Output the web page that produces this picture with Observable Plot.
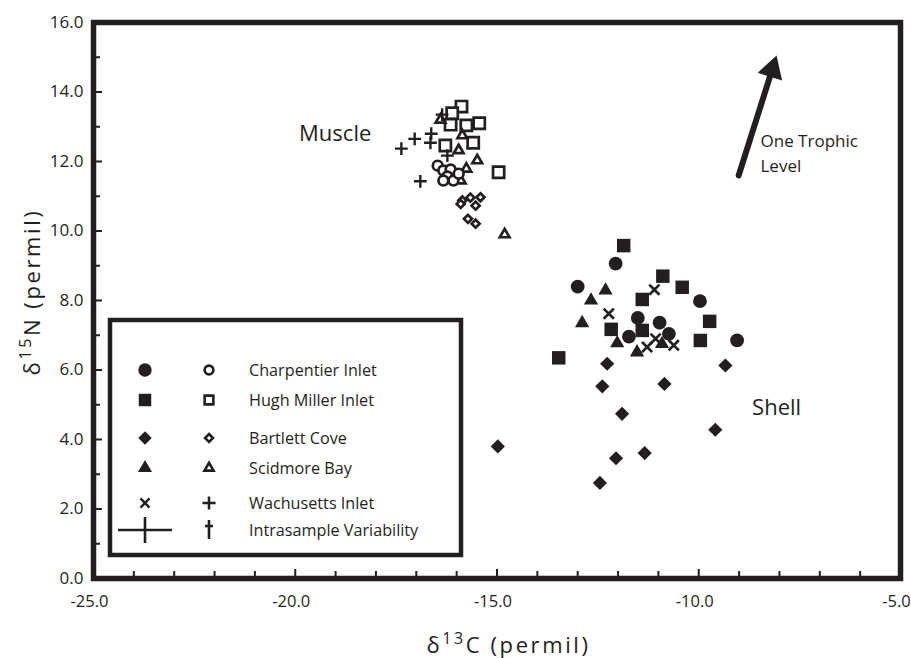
<!DOCTYPE html>
<html>
<head>
<meta charset="utf-8">
<script src="https://cdn.jsdelivr.net/npm/d3@7"></script>
<script src="https://cdn.jsdelivr.net/npm/@observablehq/plot@0.6"></script>
<style>
  body { margin: 0; background: #fff; }
  #wrap { position: relative; width: 911px; height: 658px; overflow: hidden; }
  #legend { position: absolute; left: 0; top: 0; pointer-events: none; }
</style>
</head>
<body>
<div id="wrap"></div>
<script>
// ---------- data: [δ13C, δ15N] pairs ----------
// Shell (filled symbols)
const charpentierShell = [[-12.06,9.06],[-13.00,8.40],[-9.97,7.98],[-11.51,7.50],[-10.97,7.36],[-10.74,7.04],[-11.73,6.96],[-9.05,6.85]];
const hughMillerShell = [[-11.86,9.58],[-10.89,8.70],[-10.41,8.38],[-11.40,8.03],[-9.73,7.40],[-12.17,7.17],[-9.96,6.85],[-13.47,6.35],[-11.40,7.14]];
const bartlettShell = [[-12.27,6.18],[-9.34,6.13],[-12.39,5.53],[-10.85,5.60],[-11.90,4.74],[-9.59,4.28],[-14.98,3.80],[-11.34,3.61],[-12.05,3.46],[-12.45,2.75]];
const scidmoreShell = [[-12.31,8.29],[-12.67,8.00],[-12.89,7.35],[-12.02,6.77],[-11.53,6.51],[-10.91,6.75]];
const wachusettsShell = [[-11.10,8.31],[-12.23,7.62],[-11.28,6.66],[-11.07,6.90],[-10.62,6.71]];
// Muscle (open symbols)
const charpentierMuscle = [[-16.47,11.88],[-16.33,11.74],[-16.15,11.77],[-16.23,11.57],[-16.08,11.45],[-16.33,11.45],[-15.95,11.65]];
const hughMillerMuscle = [[-15.88,13.58],[-16.11,13.39],[-16.15,13.06],[-15.76,13.04],[-15.44,13.10],[-15.59,12.54],[-16.28,12.46],[-14.96,11.69]];
const bartlettMuscle = [[-15.86,10.88],[-15.66,10.96],[-15.41,10.97],[-15.53,10.73],[-15.72,10.35],[-15.53,10.21],[-15.90,10.78]];
const scidmoreMuscle = [[-16.40,13.20],[-15.86,12.75],[-15.95,12.32],[-15.49,12.03],[-15.76,11.79],[-15.90,11.45],[-14.81,9.90]];
const wachusettsMuscle = [[-17.37,12.37],[-17.04,12.65],[-16.63,12.80],[-16.65,12.54],[-16.90,11.43],[-16.36,13.35],[-16.23,12.17]];

// axis ticks
const xMajorTicks = [-25, -20, -15, -10, -5];
const xMinorTicks = [-24,-23,-22,-21,-19,-18,-17,-16,-14,-13,-12,-11,-9,-8,-7,-6];
const yMajorTicks = [0, 2, 4, 6, 8, 10, 12, 14, 16];
const yMinorTicks = [1, 3, 5, 7, 9, 11, 13, 15];

// annotations
const groupLabels = ["Muscle", "Shell"];
const groupLabelX = [-19.01, -8.07];
const groupLabelY = [12.78, 4.92];
const trophicLines = ["One Trophic", "Level"];
const trophicX = [-8.47, -8.47];
const trophicY = [12.58, 11.86];
const trophicArrow = [{x1: -9.01, y1: 11.60, x2: -8.07, y2: 15.05}];

// legend
const legendLabels = ["Charpentier Inlet", "Hugh Miller Inlet", "Bartlett Cove", "Scidmore Bay", "Wachusetts Inlet", "Intrasample Variability"];
const legendSymbols = ["circle", "square", "diamond2", "triangle", "times", "variability"];

// ---------- chart ----------
const INK = "#231f20";
const FONT = '"Open Sans", sans-serif';
const px = d => d[0], py = d => d[1];
const filled = (data, symbol, r) => Plot.dot(data, {x: px, y: py, symbol, r, fill: INK, stroke: "none"});
const hollow = (data, symbol, r) => Plot.dot(data, {x: px, y: py, symbol, r, fill: "white", stroke: INK, strokeWidth: 2.7});
const lineSym = (data, symbol, r, sw) => Plot.dot(data, {x: px, y: py, symbol, r, fill: "none", stroke: INK, strokeWidth: sw});

const chart = Plot.plot({
  width: 911,
  height: 658,
  marginLeft: 93,
  marginRight: 11,
  marginTop: 22,
  marginBottom: 80,
  style: {fontFamily: FONT, fontSize: "17px", color: INK, background: "white", overflow: "visible"},
  x: {domain: [-25, -5]},
  y: {domain: [0, 16]},
  marks: [
    Plot.axisX({ticks: xMinorTicks, tickSize: -7, tickFormat: () => "", label: null, strokeWidth: 2}),
    Plot.axisX({ticks: xMajorTicks, tickSize: -9, tickFormat: () => "", label: null, strokeWidth: 2}),
    Plot.axisX({ticks: xMajorTicks, tickSize: 0, tickPadding: 17, dx: -4, fontSize: 16.5, tickFormat: d => d.toFixed(1), label: null}),
    Plot.axisY({ticks: yMinorTicks, tickSize: -7, tickFormat: () => "", label: null, strokeWidth: 2}),
    Plot.axisY({ticks: yMajorTicks, tickSize: -9, tickFormat: () => "", label: null, strokeWidth: 2}),
    Plot.axisY({ticks: yMajorTicks, tickSize: 0, tickPadding: 10, tickFormat: d => d.toFixed(1), label: null}),
    Plot.frame({stroke: INK, strokeWidth: 5.5}),
    // muscle (open)
    hollow(hughMillerMuscle, "square", 6.3),
    hollow(scidmoreMuscle, "triangle", 3.6),
    hollow(bartlettMuscle, "diamond2", 3.6),
    hollow(charpentierMuscle, "circle", 4.9),
    lineSym(wachusettsMuscle, "plus", 4.2, 2.4),
    // shell (filled)
    filled(hughMillerShell, "square", 7.6),
    filled(charpentierShell, "circle", 6.9),
    filled(scidmoreShell, "triangle", 5.3),
    filled(bartlettShell, "diamond2", 6.4),
    lineSym(wachusettsShell, "times", 4.7, 2.7),
    // annotations
    Plot.text(groupLabels, {x: (d, i) => groupLabelX[i], y: (d, i) => groupLabelY[i], text: d => d, fontSize: 22, fill: INK, textAnchor: "middle"}),
    Plot.text(trophicLines, {x: (d, i) => trophicX[i], y: (d, i) => trophicY[i], text: d => d, fontSize: 17, fill: INK, textAnchor: "start"}),
    Plot.arrow(trophicArrow, {x1: "x1", y1: "y1", x2: "x2", y2: "y2", stroke: INK, strokeWidth: 6, headLength: 0, insetEnd: 12}),
    Plot.dot(trophicArrow, {x: "x2", y: "y2", symbol: "triangle", r: 9.5, rotate: 17.5, dx: -4.5, dy: 14.1, fill: INK, stroke: "none"})
  ]
});

document.getElementById("wrap").appendChild(chart);

// ---------- axis titles with superscripts ----------
const svg = d3.select(chart);
const [xr0, xr1] = chart.scale("x").range;
const [yr0, yr1] = chart.scale("y").range;

function title(sel, sup, rest) {
  sel.attr("text-anchor", "middle")
    .attr("fill", INK)
    .attr("font-family", FONT)
    .attr("font-size", 22)
    .attr("letter-spacing", 2.6);
  sel.append("tspan").text("δ");
  sel.append("tspan").attr("font-size", 16).attr("dy", -9).text(sup);
  sel.append("tspan").attr("dy", 9).text(rest);
}
title(svg.append("text").attr("x", (xr0 + xr1) / 2 + 12).attr("y", yr0 + 75), "13", "C (permil)");
title(svg.append("text").attr("transform", `translate(40,${(yr0 + yr1) / 2 - 8}) rotate(-90)`), "15", "N (permil)");

// ---------- legend (overlay) ----------
const leg = d3.select("#wrap").append("svg")
  .attr("id", "legend")
  .attr("width", 911)
  .attr("height", 658);

leg.append("rect")
  .attr("x", 110).attr("y", 320).attr("width", 351).attr("height", 235)
  .attr("fill", "white").attr("stroke", INK).attr("stroke-width", 4.5);

const rowY = [370, 400, 438, 468, 503, 530];
const filledX = 145, hollowX = 209, textX = 249;
const symMap = {circle: d3.symbolCircle, square: d3.symbolSquare, diamond2: d3.symbolDiamond2, triangle: d3.symbolTriangle};
const filledSize = {circle: 140, square: 155, diamond2: 115, triangle: 85};
const hollowSize = {circle: 60, square: 76, diamond2: 40, triangle: 36};

legendSymbols.forEach((s, i) => {
  const y = rowY[i];
  if (symMap[s]) {
    leg.append("path").attr("transform", `translate(${filledX},${y})`)
      .attr("d", d3.symbol(symMap[s], filledSize[s])()).attr("fill", INK);
    leg.append("path").attr("transform", `translate(${hollowX},${y})`)
      .attr("d", d3.symbol(symMap[s], hollowSize[s])()).attr("fill", "white").attr("stroke", INK).attr("stroke-width", 2.6);
  } else if (s === "times") {
    leg.append("path").attr("transform", `translate(${filledX},${y})`)
      .attr("d", d3.symbol(d3.symbolX, 55)()).attr("fill", "none").attr("stroke", INK).attr("stroke-width", 2.5);
    leg.append("path").attr("transform", `translate(${hollowX},${y})`)
      .attr("d", d3.symbol(d3.symbolPlus, 58)()).attr("fill", "none").attr("stroke", INK).attr("stroke-width", 2.5);
  } else {
    const g = leg.append("g").attr("stroke", INK).attr("stroke-width", 2.6);
    g.append("line").attr("x1", filledX - 27).attr("x2", filledX + 27).attr("y1", y).attr("y2", y);
    g.append("line").attr("x1", filledX).attr("x2", filledX).attr("y1", y - 13).attr("y2", y + 13);
    g.append("line").attr("x1", hollowX).attr("x2", hollowX).attr("y1", y - 10).attr("y2", y + 9);
    g.append("line").attr("x1", hollowX - 4).attr("x2", hollowX + 4).attr("y1", y - 4).attr("y2", y - 4);
  }
  leg.append("text")
    .attr("x", textX).attr("y", y)
    .attr("dominant-baseline", "central")
    .attr("fill", INK)
    .attr("font-family", FONT)
    .attr("font-size", 16.2)
    .text(legendLabels[i]);
});
</script>
</body>
</html>
